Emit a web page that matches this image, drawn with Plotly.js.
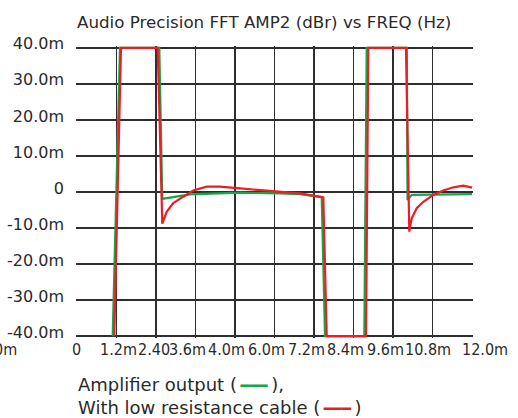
<!DOCTYPE html>
<html>
<head>
<meta charset="utf-8">
<script src="https://cdn.plot.ly/plotly-3.0.1.min.js"></script>
<style>html,body{margin:0;padding:0;background:#fff;}#chart{width:518px;height:418px;}</style>
</head>
<body>
<div id="chart"></div>
<script>
// time in ms, amplitude in milli-dBr (clamped at ±40 by the analyser display)
const greenX = [1.085, 1.306, 2.500, 2.591, 3.43, 4.95, 6.17, 6.78, 7.434, 7.534, 8.728, 8.801, 10.02, 10.04, 10.17, 12.0];
const greenY = [-40, 40, 40, -1.9, -0.65, -0.2, -0.4, -0.6, -1.4, -40, -40, 40, 40, -2.2, -0.8, -0.6];

const redX = [1.133, 1.337, 2.452, 2.591, 2.725, 2.925, 3.229, 3.533, 3.940, 4.344, 4.952, 5.560, 6.167, 6.775, 7.483, 7.586, 8.780, 8.850, 9.995, 10.095, 10.168, 10.320, 10.520, 10.824, 11.128, 11.432, 11.735, 12.0];
const redY = [-40, 40, 40, -8.8, -5.5, -3.1, -1.3, 0.4, 1.5, 1.5, 1.0, 0.55, -0.1, -0.4, -1.5, -40, -40, 40, 40, -11.0, -7.3, -4.5, -2.7, -0.8, 0.4, 1.3, 1.75, 1.2];

// grid lines
const xGridVals = [0, 1.2, 2.4, 3.6, 4.8, 6.0, 7.2, 8.4, 9.6, 10.8, 12.0];
// x tick labels as printed, and where the analyser printed them (ms)
const xTickText = ['0m', '0', '1.2m', '2.40', '3.6m', '4.0m', '6.0m', '7.2m', '8.4m', '9.6m', '10.8m', '12.0m'];
const xTickPos  = [-2.16, 0, 1.246, 2.339, 3.342, 4.557, 5.772, 6.987, 8.172, 9.357, 10.663, 12.395];
const yTickVals = [-40, -30, -20, -10, 0, 10, 20, 30, 40];
const yTickText = ['-40.0m', '-30.0m', '-20.0m', '-10.0m', '0', '10.0m', '20.0m', '30.0m', '40.0m'];

const titleText = 'Audio Precision FFT AMP2 (dBr) vs FREQ (Hz)';
const seriesNames = ['Amplifier output', 'With low resistance cable'];
const GREEN = '#17a54a', RED = '#ee1c25', TXT = '#2a2a2a', GRID = '#2e2e2e';
const FONT = '"DejaVu Sans", sans-serif';
const FONT_NARROW = '"DejaVu Sans Condensed", "DejaVu Sans", sans-serif';
const X_RANGE = [-0.03, 12.03];

const traces = [
  {x: greenX, y: greenY, type: 'scatter', mode: 'lines', name: seriesNames[0],
   line: {color: GREEN, width: 2.2}},
  {x: redX, y: redY, type: 'scatter', mode: 'lines', name: seriesNames[1],
   line: {color: RED, width: 2.2}}
];

const annotations = xTickText.map((t, i) => ({
  text: t, xref: 'paper', yref: 'paper',
  x: (xTickPos[i] - X_RANGE[0]) / (X_RANGE[1] - X_RANGE[0]), y: -11/292,
  xanchor: 'center', yanchor: 'middle', showarrow: false,
  font: {family: FONT_NARROW, size: 16, color: TXT}
}));

const dash = c => '\u2009<span style="color:' + c + ';font-size:15px">\u2501\u2501\u2501</span>\u2009';
annotations.push({
  text: seriesNames[0] + ' (' + dash(GREEN) + '),<br>' + seriesNames[1] + ' (' + dash(RED) + ')',
  xref: 'paper', yref: 'paper', x: 0, y: (338 - 396)/292,
  xanchor: 'left', yanchor: 'middle', align: 'left', showarrow: false,
  font: {family: FONT, size: 18, color: TXT}
});

const layout = {
  width: 518, height: 418,
  margin: {l: 76, r: 45, t: 46, b: 80, pad: 0},
  paper_bgcolor: '#fff', plot_bgcolor: '#fff',
  showlegend: false,
  font: {family: FONT, size: 16, color: TXT},
  title: {text: titleText, x: 77/518, xref: 'container', xanchor: 'left',
          y: 1 - 22/418, yref: 'container', yanchor: 'middle',
          font: {family: FONT, size: 16.7, color: TXT}},
  xaxis: {range: X_RANGE, tickmode: 'array', tickvals: xGridVals,
          showticklabels: false, showgrid: true, gridcolor: GRID, gridwidth: 1.5,
          zeroline: false, showline: false, ticks: ''},
  yaxis: {range: [-40.5, 40.5], tickmode: 'array', tickvals: yTickVals, ticktext: yTickText,
          showgrid: true, gridcolor: GRID, gridwidth: 1.5, zeroline: false,
          showline: false, ticks: '', ticklabelstandoff: 11, ticklabelshift: -4,
          tickfont: {family: FONT, size: 16, color: TXT}},
  annotations: annotations
};

Plotly.newPlot('chart', traces, layout, {displayModeBar: false, staticPlot: true});
</script>
</body>
</html>
